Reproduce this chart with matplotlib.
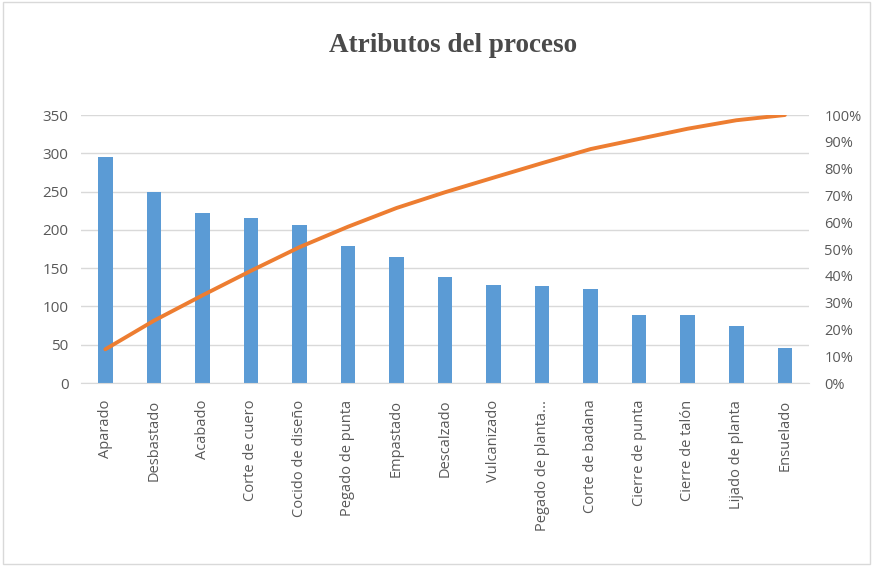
import matplotlib.pyplot as plt
from matplotlib.patches import Rectangle
from matplotlib.ticker import PercentFormatter
import numpy as np

procesos = ["Aparado", "Desbastado", "Acabado", "Corte de cuero", "Cocido de diseño",
            "Pegado de punta", "Empastado", "Descalzado", "Vulcanizado",
            "Pegado de planta...", "Corte de badana", "Cierre de punta",
            "Cierre de talón", "Lijado de planta", "Ensuelado"]
frecuencia = [295, 250, 222, 215, 207, 179, 164, 138, 128, 127, 123, 89, 89, 74, 46]

left_ticks = [0, 50, 100, 150, 200, 250, 300, 350]
right_ticks = [0, 10, 20, 30, 40, 50, 60, 70, 80, 90, 100]

# cumulative share for the pareto line
acumulado = np.cumsum(frecuencia) / np.sum(frecuencia) * 100

plt.rcParams["font.family"] = ["Open Sans", "DejaVu Sans"]
txt_color = "#595959"

fig = plt.figure(figsize=(8.73, 5.66), dpi=100)
fig.patches.append(Rectangle((0.003, 0.003), 0.994, 0.994, transform=fig.transFigure,
                             fill=False, edgecolor="#d9d9d9", linewidth=1))

ax = fig.add_axes([0.0928, 0.3233, 0.834, 0.4735])
x = np.arange(len(procesos))
ax.bar(x, frecuencia, width=0.3, color="#5B9BD5", zorder=2)
ax.set_xlim(-0.5, len(procesos) - 0.5)
ax.set_ylim(0, 350)
ax.set_yticks(left_ticks)
ax.set_xticks(x)
ax.set_xticklabels(procesos, rotation=90, fontsize=10.5, color=txt_color)
ax.tick_params(axis="y", labelsize=11, colors=txt_color, length=0, pad=9)
ax.tick_params(axis="x", length=0, pad=12)
ax.grid(axis="y", color="#d9d9d9", linewidth=1, zorder=0)
for s in ["top", "left", "right"]:
    ax.spines[s].set_visible(False)
ax.spines["bottom"].set_color("#d9d9d9")

ax2 = ax.twinx()
ax2.plot(x, acumulado, color="#ED7D31", linewidth=2.8, solid_capstyle="round", zorder=3)
ax2.set_ylim(0, 100)
ax2.set_yticks(right_ticks)
ax2.yaxis.set_major_formatter(PercentFormatter(decimals=0))
ax2.tick_params(axis="y", labelsize=10.5, colors=txt_color, length=0, pad=11)
for s in ["top", "left", "right", "bottom"]:
    ax2.spines[s].set_visible(False)

fig.text(0.519, 0.92, "Atributos del proceso", ha="center", va="center",
         fontsize=19.5, fontweight="bold", family="Liberation Serif", color="#4a4a4a")

fig.savefig("out.png", dpi=100)
